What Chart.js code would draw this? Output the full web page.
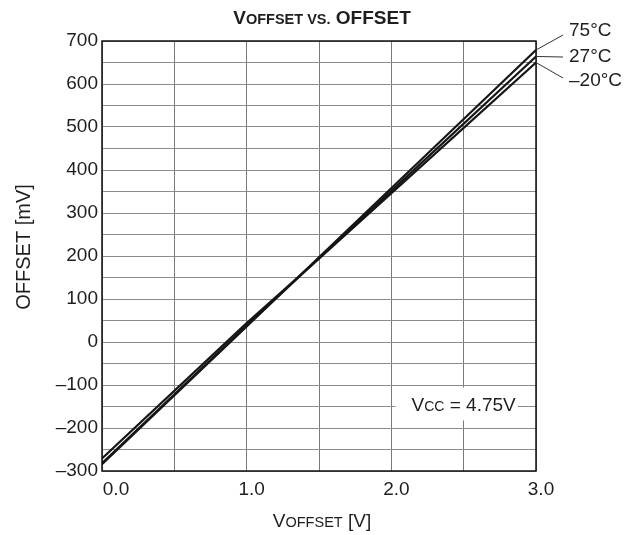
<!DOCTYPE html>
<html>
<head>
<meta charset="utf-8">
<script src="https://cdn.jsdelivr.net/npm/chart.js@4/dist/chart.umd.min.js"></script>
<style>
html,body{margin:0;padding:0;background:#fff;}
canvas{display:block;}
</style>
</head>
<body>
<canvas id="c" width="627" height="535"></canvas>
<script>
// Data
const xValues = [0, 1.0, 1.5, 3];
const series75 = [-284, 36, 197, 679];
const series27 = [-282, 38, 195, 664];
const seriesM20 = [-271, 44, 194, 650];
const seriesNames = ['75°C', '27°C', '–20°C'];
const xTickLabels = [0, 1, 2, 3];
const yMin = -300, yMax = 700, yStep = 50;

const FONT = '"Liberation Sans", Arial, Helvetica, sans-serif';
const TXT = '#1e1e1e';

function toPts(arr){ return arr.map((v,i)=>({x:xValues[i], y:v})); }

function drawParts(ctx, parts, x, y, align){
  let total = 0;
  parts.forEach(p=>{ ctx.font = (p.bold?'bold ':'') + p.size + 'px ' + FONT; p.w = ctx.measureText(p.t).width; total += p.w; });
  let cx = align === 'center' ? x - total/2 : (align === 'right' ? x - total : x);
  const start = cx;
  parts.forEach(p=>{ ctx.font = (p.bold?'bold ':'') + p.size + 'px ' + FONT; ctx.textAlign='left'; ctx.textBaseline='alphabetic'; ctx.fillText(p.t, cx, y); cx += p.w; });
  return {start, end: cx, width: total};
}

const decor = {
  id: 'decor',
  beforeDatasetsDraw(chart){
    const ctx = chart.ctx, xs = chart.scales.x, ys = chart.scales.y;
    ctx.save();
    const parts = [{t:'V',size:19},{t:'CC',size:14},{t:' = 4.75V',size:19}];
    let total = 0;
    parts.forEach(p=>{ ctx.font = p.size+'px '+FONT; total += ctx.measureText(p.t).width; });
    const cx = xs.getPixelForValue(2.5), cy = ys.getPixelForValue(-150);
    const left = cx - total/2;
    ctx.fillStyle = '#fff';
    ctx.fillRect(left - 16, cy - 19, total + 18, 33);
    ctx.fillStyle = TXT;
    drawParts(ctx, parts, cx, cy + 4, 'center');
    ctx.restore();
  },
  afterDraw(chart){
    const ctx = chart.ctx, a = chart.chartArea, xs = chart.scales.x, ys = chart.scales.y;
    ctx.save();
    ctx.strokeStyle = '#111';
    ctx.lineWidth = 1.5;
    ctx.strokeRect(a.left, a.top, a.right - a.left, a.bottom - a.top);
    ctx.fillStyle = TXT;
    drawParts(ctx, [{t:'V',size:19,bold:true},{t:'OFFSET VS.',size:14.5,bold:true},{t:' OFFSET',size:19,bold:true}], (a.left+a.right)/2 + 3, 24, 'center');
    drawParts(ctx, [{t:'V',size:19},{t:'OFFSET',size:14.5},{t:' [V]',size:19}], (a.left+a.right)/2 + 3, 527, 'center');
    ctx.save();
    ctx.translate(30, (a.top+a.bottom)/2 - 9);
    ctx.rotate(-Math.PI/2);
    drawParts(ctx, [{t:'OFFSET [mV]',size:20}], 0, 0, 'center');
    ctx.restore();
    ctx.font = '19px ' + FONT;
    ctx.textAlign = 'center';
    ctx.textBaseline = 'alphabetic';
    xTickLabels.forEach(v=>{
      const off = v === 0 ? 14 : 5;
      ctx.fillText(v.toFixed(1), xs.getPixelForValue(v) + off, a.bottom + 24);
    });
    const ends = [series75, series27, seriesM20].map(s => ys.getPixelForValue(s[s.length-1]));
    const labelBase = [36, 62, 86];
    const leaderEnd = [35, 57, 78];
    const xr = xs.getPixelForValue(3);
    ctx.strokeStyle = '#333';
    ctx.lineWidth = 1;
    for (let i=0;i<3;i++){
      ctx.beginPath();
      ctx.moveTo(xr, ends[i]);
      ctx.lineTo(xr + 27, leaderEnd[i]);
      ctx.stroke();
      ctx.font = '19px ' + FONT;
      ctx.textAlign = 'left';
      ctx.fillText(seriesNames[i], xr + 33, labelBase[i]);
    }
    ctx.restore();
  }
};

const ds = (data) => ({data: toPts(data), borderColor:'#161616', borderWidth:2.2, pointRadius:0, tension:0, fill:false});

new Chart(document.getElementById('c'), {
  type: 'line',
  data: { datasets: [ds(series75), ds(series27), ds(seriesM20)] },
  options: {
    responsive: false,
    animation: false,
    events: [],
    layout: { padding: { top: 41, right: 91, bottom: 0, left: 0 } },
    plugins: { legend: {display:false}, title:{display:false}, tooltip:{enabled:false} },
    scales: {
      x: {
        type: 'linear', min: 0, max: 3,
        ticks: { display: false, stepSize: 0.5 },
        grid: { color: '#7a7a7a', lineWidth: 1, drawTicks: false },
        border: { display: false },
        afterFit: s => { s.height = 64; }
      },
      y: {
        type: 'linear', min: yMin, max: yMax,
        ticks: {
          stepSize: yStep, autoSkip: false, padding: 4, color: TXT,
          font: { family: FONT, size: 19 },
          callback: v => (v % 100 === 0) ? (v < 0 ? '–' + (-v) : String(v)) : ''
        },
        grid: { color: '#8c8c8c', lineWidth: 1, drawTicks: false },
        border: { display: false },
        afterFit: s => { s.width = 102; }
      }
    }
  },
  plugins: [decor]
});
</script>
</body>
</html>
